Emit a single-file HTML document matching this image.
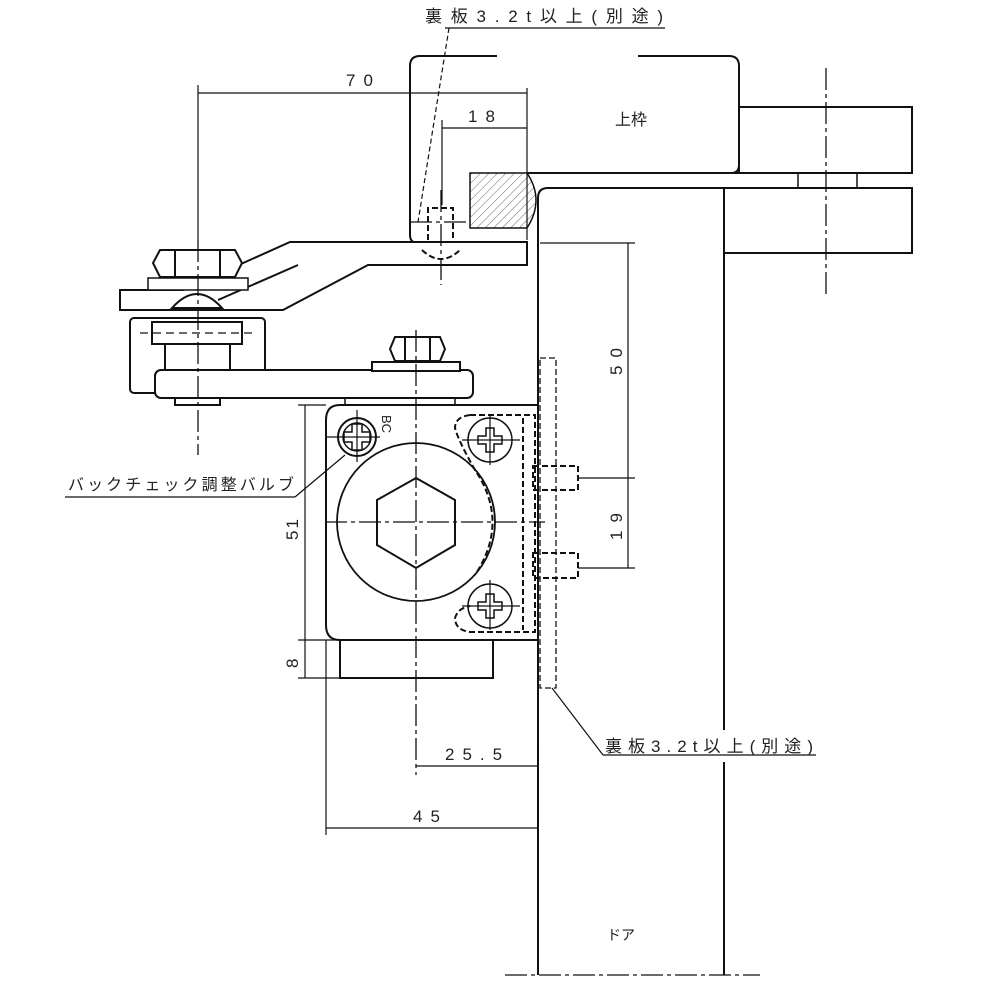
<!DOCTYPE html>
<html><head><meta charset="utf-8"><style>
html,body{margin:0;padding:0;background:#fff}
svg{display:block}
text{font-family:"Liberation Sans","Noto Sans CJK JP",sans-serif;fill:#222}
</style></head><body>
<svg width="984" height="984" viewBox="0 0 984 984" xmlns="http://www.w3.org/2000/svg">
<defs>
<pattern id="h" width="6" height="6" patternUnits="userSpaceOnUse" patternTransform="rotate(45)">
<line x1="0" y1="0" x2="0" y2="6" stroke="#666" stroke-width="1"/></pattern>
</defs>
<g fill="none" stroke="#111" stroke-width="2">
<path d="M410,235 L410,66 Q410,56 420,56 L497,56"/>
<path d="M638,56 L729,56 Q739,56 739,66 L739,165 Q739,173 731,173"/>
<path d="M410,235 Q410,243 418,243"/>
<rect x="739" y="107" width="173" height="66"/>
<line x1="527" y1="173" x2="912" y2="173"/>
<path d="M547,188 L912,188 L912,253 L724,253"/>
<rect x="798" y="173" width="59" height="15" stroke-width="1.5"/>
<path d="M538,975 L538,198 Q538,188 548,188"/>
<line x1="724" y1="188" x2="724" y2="730"/>
<line x1="724" y1="762" x2="724" y2="975"/>
<path d="M470,173 L527,173 Q545,200 527,228 L470,228 Z" fill="url(#h)" stroke-width="1.5"/>
<path d="M120,290 L183,290 L290,242 L527,242 L527,265 L368,265 L283,310 L120,310 Z" fill="#fff"/>
<path d="M218,300 L298,265"/>
<path d="M160,250 L235,250 L242,263 L235,277 L160,277 L153,263 Z" fill="#fff"/>
<line x1="175" y1="250" x2="175" y2="277"/><line x1="220" y1="250" x2="220" y2="277"/>
<rect x="148" y="278" width="100" height="12" fill="#fff" stroke-width="1.5"/>
<path d="M172,308 Q197,280 222,308 Z" fill="#fff"/>
<rect x="130" y="318" width="135" height="75" rx="4"/>
<rect x="152" y="322" width="90" height="22" fill="#fff"/>
<line x1="140" y1="333" x2="255" y2="333" stroke-dasharray="8,5" stroke-width="1.2"/>
<rect x="165" y="344" width="65" height="28"/>
<rect x="155" y="370" width="318" height="28" rx="6" fill="#fff"/>
<path d="M175,398 L175,405 L220,405 L220,398"/>
<rect x="372" y="362" width="88" height="9" fill="#fff"/>
<path d="M395,337 L440,337 L445,349 L440,361 L395,361 L390,349 Z" fill="#fff"/>
<line x1="405" y1="337" x2="405" y2="361"/><line x1="430" y1="337" x2="430" y2="361"/>
<path d="M538,405 L340,405 Q326,405 326,420 L326,625 Q326,640 340,640 L538,640"/>
<rect x="340" y="640" width="153" height="38"/>
<path d="M345,405 L345,398 L455,398 L455,405" stroke-width="1.5"/>
<circle cx="416" cy="522" r="79" stroke-width="1.8"/>
<path d="M416,478 L455,500 L455,545 L416,568 L377,545 L377,500 Z"/>
<circle cx="357" cy="437" r="19"/><circle cx="357" cy="437" r="14" stroke-width="1.5"/>
<path d="M352,424 h10 v8 h8 v10 h-8 v8 h-10 v-8 h-8 v-10 h8 z" stroke-width="1.5"/>
<circle cx="490" cy="440" r="22" stroke-width="1.5"/>
<circle cx="490" cy="606" r="22" stroke-width="1.5"/>
<path d="M486,428 h8 v8 h8 v8 h-8 v8 h-8 v-8 h-8 v-8 h8 z" stroke-width="1.5"/>
<path d="M486,594 h8 v8 h8 v8 h-8 v8 h-8 v-8 h-8 v-8 h8 z" stroke-width="1.5"/>
</g>
<g fill="none" stroke="#111" stroke-width="2" stroke-dasharray="6,3">
<path d="M470,415 L535,415 L535,632 L470,632 Q455,630 455,618 Q458,608 470,606"/>
<path d="M470,415 Q455,417 455,428 Q458,440 475,470 Q510,522 475,575"/>
<line x1="523" y1="418" x2="523" y2="630"/>
<rect x="533" y="466" width="45" height="24"/>
<rect x="533" y="553" width="45" height="25"/>
<rect x="540" y="358" width="16" height="330" stroke-width="1.3"/>
<path d="M428,240 L428,208 L453,208 L453,240"/>
<path d="M422,250 Q441,268 460,250"/>
</g>
<g stroke="#111" stroke-width="1.3" stroke-dasharray="22,4,4,4" fill="none">
<line x1="826" y1="68" x2="826" y2="297"/>
<line x1="198" y1="240" x2="198" y2="455"/>
<line x1="416" y1="330" x2="416" y2="775"/>
<line x1="441" y1="190" x2="441" y2="285"/>
<line x1="325" y1="522" x2="545" y2="522"/>
<line x1="505" y1="975" x2="760" y2="975"/>
<line x1="410" y1="222" x2="470" y2="222"/>
</g>
<g stroke="#111" stroke-width="1.2" fill="none">
<line x1="198" y1="85" x2="198" y2="240"/><line x1="527" y1="88" x2="527" y2="240"/>
<line x1="198" y1="93" x2="527" y2="93"/>
<line x1="442" y1="120" x2="442" y2="205"/><line x1="442" y1="128" x2="527" y2="128"/>
<line x1="540" y1="243" x2="635" y2="243"/><line x1="578" y1="478" x2="635" y2="478"/><line x1="578" y1="568" x2="635" y2="568"/>
<line x1="628" y1="243" x2="628" y2="568"/>
<line x1="298" y1="405" x2="326" y2="405"/><line x1="298" y1="640" x2="340" y2="640"/><line x1="298" y1="678" x2="340" y2="678"/>
<line x1="305" y1="405" x2="305" y2="678"/>
<line x1="326" y1="640" x2="326" y2="835"/><line x1="538" y1="740" x2="538" y2="835"/>
<line x1="416" y1="766" x2="538" y2="766"/><line x1="326" y1="828" x2="538" y2="828"/>
<line x1="325" y1="437" x2="380" y2="437"/><line x1="357" y1="410" x2="357" y2="462"/>
<line x1="462" y1="440" x2="520" y2="440"/><line x1="490" y1="415" x2="490" y2="465"/>
<line x1="462" y1="606" x2="520" y2="606"/><line x1="490" y1="580" x2="490" y2="630"/>
<line x1="445" y1="28" x2="665" y2="28"/><line x1="449" y1="28" x2="418" y2="222" stroke-dasharray="5,3"/>
<line x1="65" y1="497" x2="295" y2="497"/><line x1="295" y1="497" x2="345" y2="455"/>
<line x1="603" y1="755" x2="816" y2="755"/><line x1="603" y1="755" x2="552" y2="688"/>
</g>
<g font-size="17">
<text x="425" y="22" textLength="238" lengthAdjust="spacing">裏板3.2t以上(別途)</text>
<text x="605" y="752" textLength="208" lengthAdjust="spacing">裏板3.2t以上(別途)</text>
<text x="68" y="490" font-size="16" textLength="226" lengthAdjust="spacing">バックチェック調整バルブ</text>
<text x="615" y="125" font-size="16">上枠</text>
<text x="607" y="940" font-size="14">ドア</text>
<text x="346" y="86" letter-spacing="8">70</text>
<text x="468" y="122" letter-spacing="8">18</text>
<text x="445" y="760" letter-spacing="8">25.5</text>
<text x="413" y="822" letter-spacing="8">45</text>
<text transform="translate(622,375) rotate(-90)" letter-spacing="8">50</text>
<text transform="translate(622,540) rotate(-90)" letter-spacing="8">19</text>
<text transform="translate(298,540) rotate(-90)" letter-spacing="2">51</text>
<text transform="translate(298,668) rotate(-90)">8</text>
<text transform="translate(382,415) rotate(90)" font-size="13">BC</text>
</g>
</svg>
</body></html>
